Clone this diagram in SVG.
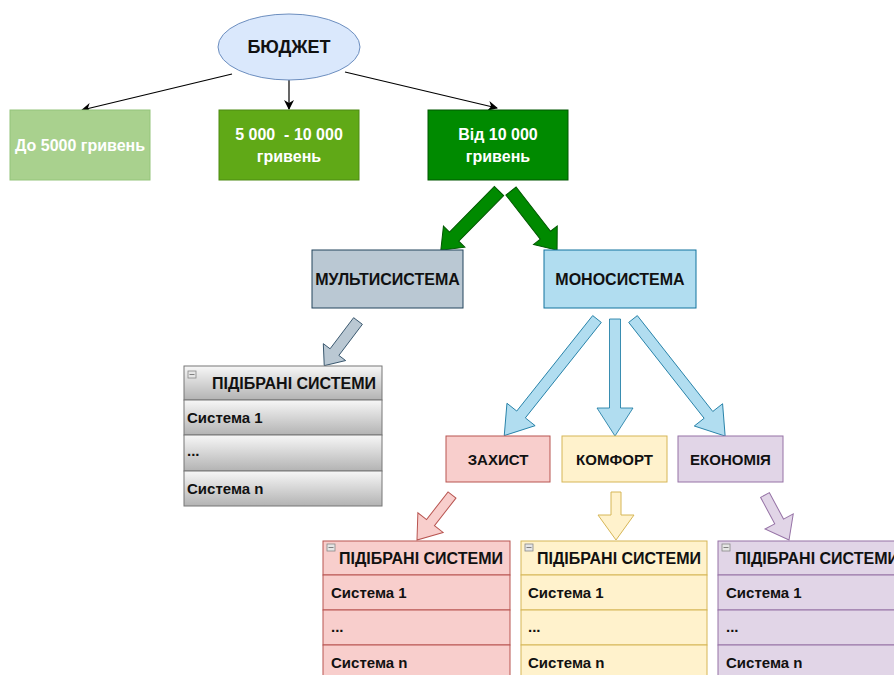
<svg xmlns="http://www.w3.org/2000/svg" width="894" height="675" viewBox="0 0 894 675">
<defs>
<linearGradient id="gGray" x1="0" y1="0" x2="0" y2="1">
<stop offset="0" stop-color="#f7f7f7"/>
<stop offset="1" stop-color="#b3b3b3"/>
</linearGradient>
<marker id="ah" viewBox="0 0 10 10" refX="9" refY="5" markerWidth="10" markerHeight="10" orient="auto" markerUnits="userSpaceOnUse">
<path d="M0,0 L10,5 L0,10 L3,5 Z" fill="#000"/>
</marker>
</defs>
<style>
text{font-family:"Liberation Sans",Arial,sans-serif;font-weight:bold;}
.t16{font-size:16px;fill:#111;}
.t15{font-size:15px;fill:#111;}
.w{fill:#fff;font-size:16px;}
.ctr{text-anchor:middle;}
.line{stroke:#000;stroke-width:1.2;fill:none;marker-end:url(#ah);}
.grn{fill:#008a00;stroke:#005700;stroke-width:1;}
.gry{fill:#bac8d3;stroke:#23445d;stroke-width:0.8;}
.blu{fill:#b1ddf0;stroke:#10739e;stroke-width:0.8;}
.red{fill:#f8cecc;stroke:#b85450;stroke-width:1;}
.yel{fill:#fff2cc;stroke:#d6b656;stroke-width:1;}
.pur{fill:#e1d5e7;stroke:#9673a6;stroke-width:1;}
.glist{fill:url(#gGray);stroke:#777;stroke-width:1;}
.icon{fill:#e6e6e6;stroke:#888;stroke-width:0.8;}
</style>
<rect width="894" height="675" fill="#fff"/>

<g id="connectors">
<path class="line" d="M232,74 L82,110"/>
<path class="line" d="M289,80 L289,109"/>
<path class="line" d="M345,72 L497,108"/>
<path class="grn" transform="translate(499,191) rotate(134.5)" d="M0,-6.5 L64,-6.5 L64,-15 L83,0 L64,15 L64,6.5 L0,6.5 Z"/>
<path class="grn" transform="translate(511,191) rotate(52.1)" d="M0,-6.5 L56,-6.5 L56,-15 L75,0 L56,15 L56,6.5 L0,6.5 Z"/>
<path class="gry" transform="translate(358,321) rotate(127.1)" d="M0,-5.5 L39,-5.5 L39,-14 L56,0 L39,14 L39,5.5 L0,5.5 Z"/>
<path class="blu" transform="translate(597,319) rotate(128.5)" d="M0,-5.5 L122,-5.5 L122,-18 L149,0 L122,18 L122,5.5 L0,5.5 Z"/>
<path class="blu" transform="translate(615,319) rotate(90)" d="M0,-5.5 L89,-5.5 L89,-18 L117,0 L89,18 L89,5.5 L0,5.5 Z"/>
<path class="blu" transform="translate(633,319) rotate(51.8)" d="M0,-5.5 L122,-5.5 L122,-18 L149,0 L122,18 L122,5.5 L0,5.5 Z"/>
<path class="red" transform="translate(452,495) rotate(127.9)" d="M0,-5 L35,-5 L35,-16 L57,0 L35,16 L35,5 L0,5 Z"/>
<path class="yel" transform="translate(616,492) rotate(90)" d="M0,-5 L23,-5 L23,-18 L48,0 L23,18 L23,5 L0,5 Z"/>
<path class="pur" transform="translate(765,495) rotate(61.9)" d="M0,-5 L30,-5 L30,-16 L51,0 L30,16 L30,5 L0,5 Z"/>
</g>

<g id="budget">
<ellipse cx="289" cy="47" rx="71" ry="33" fill="#dae8fc" stroke="#6c8ebf" stroke-width="1"/>
<text x="289" y="53" class="ctr" style="font-size:18px;fill:#111">БЮДЖЕТ</text>
</g>

<g id="b1">
<rect x="10" y="110" width="140" height="70" fill="#a9d18e" stroke="#94c47a" stroke-width="1"/>
<text x="80" y="151" class="w ctr">До 5000 гривень</text>
</g>
<g id="b2">
<rect x="219" y="110" width="140" height="70" fill="#60a917" stroke="#4d8a12" stroke-width="1"/>
<text x="289" y="140" class="w ctr" xml:space="preserve">5 000  - 10 000</text>
<text x="289" y="162" class="w ctr">гривень</text>
</g>
<g id="b3">
<rect x="428" y="110" width="140" height="70" fill="#008a00" stroke="#005700" stroke-width="1"/>
<text x="498" y="140" class="w ctr">Від 10 000</text>
<text x="498" y="162" class="w ctr">гривень</text>
</g>

<g id="multi">
<rect x="312" y="250" width="151" height="58" fill="#bac8d3" stroke="#23445d" stroke-width="1"/>
<text x="387.5" y="285" class="t16 ctr">МУЛЬТИСИСТЕМА</text>
</g>
<g id="mono">
<rect x="544" y="250" width="152" height="58" fill="#b1ddf0" stroke="#10739e" stroke-width="1"/>
<text x="620" y="285" class="t16 ctr">МОНОСИСТЕМА</text>
</g>

<g id="list0">
<rect class="glist" x="184" y="366" width="198" height="34"/>
<rect class="glist" x="184" y="400" width="198" height="35"/>
<rect class="glist" x="184" y="435" width="198" height="36"/>
<rect class="glist" x="184" y="471" width="198" height="35"/>
<rect class="icon" x="188" y="371" width="8" height="7"/>
<line x1="189.5" y1="374.5" x2="194.5" y2="374.5" stroke="#666" stroke-width="0.8"/>
<text x="212" y="389" class="t16">ПІДІБРАНІ СИСТЕМИ</text>
<text x="187" y="423" class="t15">Система 1</text>
<text x="187" y="456" class="t15">...</text>
<text x="187" y="494" class="t15">Система n</text>
</g>

<g id="zakhyst">
<rect x="446" y="436" width="104" height="46" fill="#f8cecc" stroke="#b85450" stroke-width="1"/>
<text x="498" y="465" class="t15 ctr">ЗАХИСТ</text>
</g>
<g id="komfort">
<rect x="562" y="436" width="105" height="46" fill="#fff2cc" stroke="#d6b656" stroke-width="1"/>
<text x="614.5" y="465" class="t15 ctr">КОМФОРТ</text>
</g>
<g id="ekonomia">
<rect x="678" y="436" width="105" height="46" fill="#e1d5e7" stroke="#9673a6" stroke-width="1"/>
<text x="730.5" y="465" class="t15 ctr">ЕКОНОМІЯ</text>
</g>

<g id="list1">
<rect class="red" x="323" y="541" width="187" height="34"/>
<rect class="red" x="323" y="575" width="187" height="35"/>
<rect class="red" x="323" y="610" width="187" height="35"/>
<rect class="red" x="323" y="645" width="187" height="35"/>
<rect class="icon" x="327" y="544" width="8" height="7"/>
<line x1="328.5" y1="547.5" x2="333.5" y2="547.5" stroke="#666" stroke-width="0.8"/>
<text x="339" y="564" class="t16">ПІДІБРАНІ СИСТЕМИ</text>
<text x="331" y="598" class="t15">Система 1</text>
<text x="331" y="632" class="t15">...</text>
<text x="331" y="668" class="t15">Система n</text>
</g>

<g id="list2">
<rect class="yel" x="521" y="541" width="186" height="34"/>
<rect class="yel" x="521" y="575" width="186" height="35"/>
<rect class="yel" x="521" y="610" width="186" height="35"/>
<rect class="yel" x="521" y="645" width="186" height="35"/>
<rect class="icon" x="525" y="544" width="8" height="7"/>
<line x1="526.5" y1="547.5" x2="531.5" y2="547.5" stroke="#666" stroke-width="0.8"/>
<text x="537" y="564" class="t16">ПІДІБРАНІ СИСТЕМИ</text>
<text x="528" y="598" class="t15">Система 1</text>
<text x="528" y="632" class="t15">...</text>
<text x="528" y="668" class="t15">Система n</text>
</g>

<g id="list3">
<rect class="pur" x="718" y="541" width="190" height="34"/>
<rect class="pur" x="718" y="575" width="190" height="35"/>
<rect class="pur" x="718" y="610" width="190" height="35"/>
<rect class="pur" x="718" y="645" width="190" height="35"/>
<rect class="icon" x="722" y="544" width="8" height="7"/>
<line x1="723.5" y1="547.5" x2="728.5" y2="547.5" stroke="#666" stroke-width="0.8"/>
<text x="735" y="564" class="t16">ПІДІБРАНІ СИСТЕМИ</text>
<text x="726" y="598" class="t15">Система 1</text>
<text x="726" y="632" class="t15">...</text>
<text x="726" y="668" class="t15">Система n</text>
</g>
</svg>
